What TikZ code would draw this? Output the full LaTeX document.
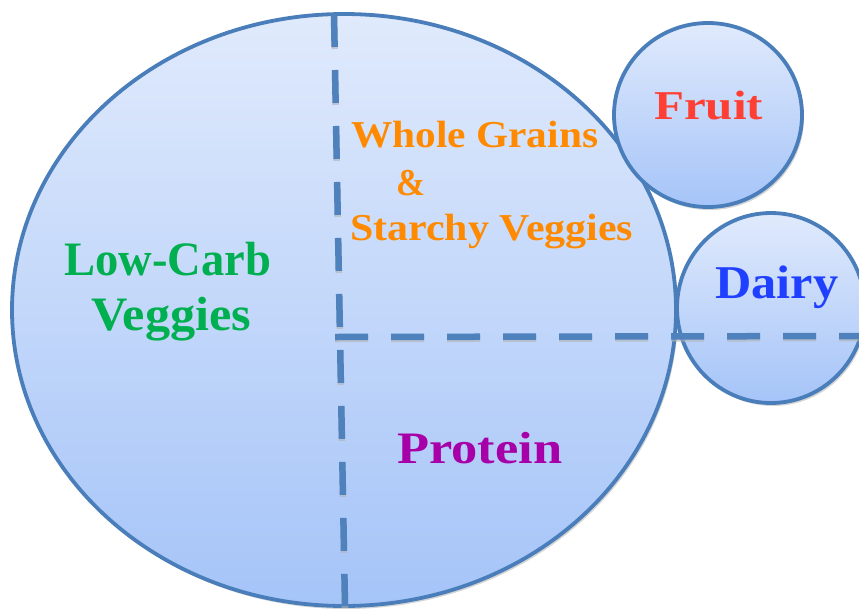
\documentclass[tikz,border=0pt]{standalone}
\usepackage{fontspec}
\setmainfont{Liberation Serif}
\usetikzlibrary{shapes.geometric,shadows}
\definecolor{edgeblue}{HTML}{4A7EBB}
\definecolor{dashblue}{HTML}{4F81BD}
\definecolor{lighttop}{HTML}{E0EAFC}
\definecolor{darkbottom}{HTML}{A5C4F8}
\definecolor{cgreen}{HTML}{00B050}
\definecolor{corange}{HTML}{FF8A00}
\definecolor{cred}{HTML}{FF3F33}
\definecolor{cblue}{HTML}{2040FF}
\definecolor{cpurple}{HTML}{A800A8}
\newcommand{\fitw}[2]{\resizebox{#1}{\height}{#2}}
\tikzset{
  plateshape/.style={ellipse, draw=edgeblue, line width=3.8pt, top color=lighttop, bottom color=darkbottom,
    inner sep=0pt, drop shadow={shadow xshift=2pt, shadow yshift=-3pt, fill=black!30, opacity=.55}},
  label/.style={anchor=base west, inner sep=0pt, font=\bfseries},
  divider/.style={dashblue, line width=6.5pt, dash pattern=on 33pt off 23pt},
  dividershadow/.style={black!30, line width=6.5pt, dash pattern=on 33pt off 23pt, opacity=.6}
}
\begin{document}
\begin{tikzpicture}[x=1pt,y=-1pt]
\useasboundingbox (0,0) rectangle (859,608);
\clip (0,0) rectangle (859,608);
% plate and side dishes
\node[plateshape, minimum width=664pt, minimum height=592pt] (plate) at (344,310) {};
\node[plateshape, minimum width=188pt, minimum height=184pt] (fruit) at (708,115) {};
\node[plateshape, minimum width=188pt, minimum height=190pt] (dairy) at (771,308) {};
% dividers
\coordinate (vt) at (334,14);
\coordinate (vb) at (345,606);
\coordinate (hl) at (335,337);
\coordinate (hr) at (880,336);
\draw[dividershadow] ([yshift=-2pt]vt) -- ([yshift=-2pt]vb);
\draw[dividershadow] ([yshift=-2pt]hl) -- ([yshift=-2pt]hr);
\draw[divider] (vt) -- (vb);
\draw[divider] (hl) -- (hr);
% labels
\node[label, text=cgreen, font=\bfseries\fontsize{48}{48}\selectfont] (lc1) at (64,275) {\fitw{207pt}{Low-Carb}};
\node[label, text=cgreen, font=\bfseries\fontsize{48}{48}\selectfont] (lc2) at (91,330) {\fitw{160pt}{Veggies}};
\node[label, text=corange, font=\bfseries\fontsize{38}{38}\selectfont] (wg) at (351,147) {\fitw{247pt}{Whole Grains}};
\node[label, text=corange, font=\bfseries\fontsize{38}{38}\selectfont] (amp) at (396,195) {\fitw{29pt}{\&}};
\node[label, text=corange, font=\bfseries\fontsize{38}{38}\selectfont] (sv) at (350,240) {\fitw{283pt}{Starchy Veggies}};
\node[label, text=cred, font=\bfseries\fontsize{41}{41}\selectfont] (fr) at (654,119) {\fitw{109pt}{Fruit}};
\node[label, text=cblue, font=\bfseries\fontsize{47}{47}\selectfont] (dy) at (715,298) {\fitw{123pt}{Dairy}};
\node[label, text=cpurple, font=\bfseries\fontsize{45}{45}\selectfont] (pr) at (397,463) {\fitw{165pt}{Protein}};
\end{tikzpicture}
\end{document}
